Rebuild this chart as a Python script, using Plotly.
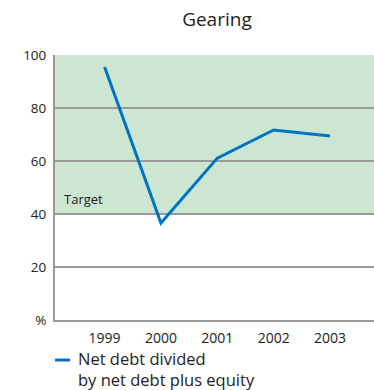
import plotly.graph_objects as go

years = [1999, 2000, 2001, 2002, 2003]
gearing = [95.5, 36.6, 61.1, 71.7, 69.4]
target_low, target_high = 40, 100
y_ticks = [0, 20, 40, 60, 80, 100]
y_tick_labels = ["%", "20", "40", "60", "80", "100"]
series_name_lines = ["Net debt divided", "by net debt plus equity"]
line_color = "#0074c4"

FONT = "Open Sans"
fig = go.Figure()

fig.add_hrect(y0=target_low, y1=target_high, fillcolor="#cce6d1", line_width=0, layer="below")

fig.add_trace(go.Scatter(
    x=years, y=gearing, mode="lines",
    line=dict(color=line_color, width=3),
    name=" ".join(series_name_lines), showlegend=False,
))

fig.add_annotation(x=0.022, xref="paper", y=target_low, yref="y", yanchor="bottom",
                   xanchor="left", text="Target", showarrow=False,
                   font=dict(family=FONT, size=13, color="#222"), yshift=4)

# legend drawn manually below the plot
fig.add_shape(type="line", xref="paper", yref="paper", x0=0.0, x1=0.047,
              y0=-0.151, y1=-0.151, line=dict(color=line_color, width=3))
for txt, yy in zip(series_name_lines, [-0.145, -0.224]):
    fig.add_annotation(x=0.067, xref="paper", y=yy, yref="paper", xanchor="left",
                       yanchor="middle", align="left", text=txt, showarrow=False,
                       font=dict(family=FONT, size=16.5, color="#222"))

fig.update_layout(
    width=374, height=390,
    margin=dict(l=55, r=0, t=55, b=70),
    paper_bgcolor="white", plot_bgcolor="rgba(0,0,0,0)",
    title=dict(text="Gearing", x=0.58, xanchor="center", y=0.95, yanchor="middle",
               font=dict(family=FONT, size=19, color="#222")),
    font=dict(family=FONT, color="#222"),
    xaxis=dict(range=[1998.12, 2003.78], tickvals=years, ticktext=[str(y) for y in years],
               showgrid=False, zeroline=False, showline=True, linecolor="#999", linewidth=2,
               ticks="outside", ticklen=4, tickcolor="rgba(0,0,0,0)",
               tickfont=dict(family=FONT, size=14, color="#222"), fixedrange=True),
    yaxis=dict(range=[0, 100], tickvals=y_ticks, ticktext=y_tick_labels,
               showgrid=True, gridcolor="#999", gridwidth=1.5, zeroline=False,
               showline=True, linecolor="#999", linewidth=2,
               ticks="outside", ticklen=4, tickcolor="rgba(0,0,0,0)",
               tickfont=dict(family=FONT, size=13.5, color="#222"), fixedrange=True),
    showlegend=False,
)

fig.write_html("out.html")
